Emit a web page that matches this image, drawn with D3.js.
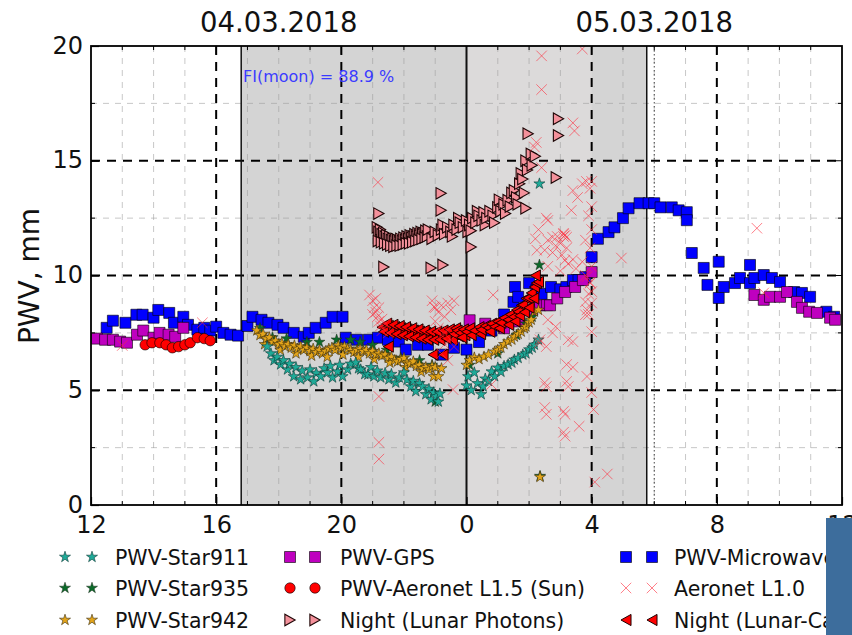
<!DOCTYPE html>
<html>
<head>
<meta charset="utf-8">
<script src="https://cdn.jsdelivr.net/npm/d3@7"></script>
<style>
  html, body { margin: 0; padding: 0; background: #fff; }
  svg { display: block; font-family: "DejaVu Sans", sans-serif; }
</style>
</head>
<body>
<svg id="chart" width="852" height="635"></svg>
<script>
// Precipitable water vapour, 04.03.2018 12:00 – 05.03.2018 12:00.
// Each point: [hour counted from 04.03.2018 00:00, PWV in mm].

const microwave = [
  [12.5,7.72],[12.7,8.03],[13.1,7.94],[13.45,8.29],[13.65,8.29],[14.0,8.16],[14.15,8.5],[14.5,8.37],
  [14.65,7.94],[14.95,8.2],[15.1,7.85],[15.4,7.64],[15.62,7.72],[15.81,7.6],[16.0,7.77],[16.23,7.5],
  [16.46,7.42],[16.7,7.38],[17.0,7.8],[17.16,8.2],[17.45,8.07],[17.67,7.94],[17.96,7.85],[18.15,7.72],
  [18.48,7.5],[18.8,7.33],[18.96,7.5],[19.18,7.72],[19.5,7.94],[19.72,8.2],[20.04,8.2],[20.14,7.29],
  [20.5,7.2],[20.88,7.2],[21.17,7.29],[21.49,7.2],[21.84,7.12],[22.06,6.77],[22.45,6.98],[22.77,6.98],
  [23.19,6.55],[23.6,6.85],[24.0,6.77],[24.4,7.1],[24.8,7.6],[25.2,8.3],[25.5,8.85],[25.55,9.5],
  [25.65,9.07],[26.0,9.67],[26.23,9.37],[26.4,9.2],[26.7,9.5],[27.0,9.4],[27.19,9.5],[27.4,9.8],
  [27.58,9.8],[27.8,9.93],[28.0,10.8],[28.2,11.6],[28.54,11.89],[28.73,12.1],[29.0,12.5],[29.18,12.93],
  [29.53,13.15],[29.82,13.15],[30.0,13.15],[30.2,12.97],[30.56,12.97],[30.78,12.84],[31.04,12.76],[31.04,12.41],
  [31.2,10.98],[31.58,10.33],[31.7,9.59],[32.06,10.6],[32.06,9.02],[32.22,9.5],[32.58,9.67],[32.74,9.89],
  [33.06,10.46],[33.06,9.67],[33.2,9.89],[33.5,10.02],[33.76,9.89],[34.02,9.72],[34.47,9.28],[34.72,9.24],
  [34.98,9.07],[35.5,8.42],[35.75,8.2]
];

const gps = [
  [12.19,7.25],[12.45,7.2],[12.7,7.2],[12.93,7.12],[13.15,7.07],[13.47,7.42],[13.67,7.6],[14.0,7.29],
  [14.19,7.5],[14.48,7.42],[14.69,7.33],[14.95,7.72],
  [24.1,8.05],[24.6,7.9],[25.2,7.7],[25.65,8.0],[26.1,8.5],[26.35,8.7],[26.57,8.71],[26.67,8.7],
  [26.9,9.0],[27.15,9.28],[27.47,9.5],[27.72,9.8],[28.0,10.15],
  [33.2,9.15],[33.5,8.94],[33.7,9.07],[34.02,9.07],[34.24,9.28],[34.56,8.85],[34.72,8.59],[34.95,8.42],
  [35.2,8.37],[35.62,8.16],[35.78,8.07]
];

const aeronetSun = [
  [13.73,6.98],[13.95,7.07],[14.2,7.07],[14.4,6.98],[14.6,6.85],[14.8,6.9],[15.0,6.98],[15.17,7.07],
  [15.4,7.29],[15.62,7.25],[15.81,7.16]
];

const star935 = [
  [17.4,7.7],[17.8,7.3],[18.25,7.25],[18.9,7.1],[19.3,7.1],[19.85,7.2],[20.3,7.2],[20.6,7.1],
  [21.0,6.97],[21.45,6.75],[21.9,6.4],[22.5,6.3],[22.9,6.1],[23.0,4.5],
  [24.1,6.1],[25.0,6.6],[25.6,7.4],[25.9,7.9],[26.1,8.2],[26.33,10.46],[26.35,1.26]
];

const star942 = [
  [17.3,7.6],[17.4,7.4],[17.5,7.45],[17.55,7.0],[17.6,7.25],[17.7,7.3],[17.8,7.1],[17.9,7.15],
  [18.0,7.0],[18.05,6.75],[18.1,7.05],[18.2,6.9],[18.3,7.0],[18.4,6.85],[18.5,6.95],[18.55,6.6],
  [18.6,6.8],[18.7,6.9],[18.8,6.75],[18.9,6.85],[19.0,6.7],[19.05,6.5],[19.1,6.8],[19.2,6.65],
  [19.3,6.75],[19.4,6.6],[19.5,6.7],[19.55,6.45],[19.6,6.8],[19.7,6.85],[19.8,6.75],[19.9,6.95],
  [20.0,6.85],[20.05,6.55],[20.1,6.9],[20.2,6.8],[20.3,6.75],[20.4,6.65],[20.5,6.75],[20.55,6.45],
  [20.6,6.8],[20.7,6.7],[20.8,6.75],[20.9,6.6],[21.0,6.7],[21.05,6.35],[21.1,6.55],[21.2,6.6],
  [21.3,6.5],[21.4,6.55],[21.5,6.4],[21.55,6.2],[21.6,6.45],[21.7,6.3],[21.8,6.25],[21.9,6.35],
  [22.0,6.4],[22.05,6.0],[22.1,6.2],[22.2,6.15],[22.3,6.25],[22.4,6.05],[22.5,6.1],[22.55,5.8],
  [22.6,5.95],[22.7,6.0],[22.8,5.9],[22.9,6.05],[22.95,5.6],[23.0,6.0],[23.1,5.6],[23.2,5.95],
  [24.0,6.1],[24.1,6.3],[24.25,6.42],[24.4,6.35],[24.56,6.46],[24.7,6.55],[24.9,6.68],[25.0,6.75],
  [25.1,6.85],[25.2,7.0],[25.33,7.12],[25.45,7.2],[25.53,7.33],[25.65,7.45],[25.75,7.55],[25.85,7.7],
  [25.9,7.77],[26.0,7.95],[26.07,8.07],[26.17,8.42],[26.3,8.5],[26.35,1.22]
];

const star911 = [
  [17.63,6.9],[17.75,6.6],[17.85,6.3],[17.95,6.45],[18.06,6.12],[18.15,6.3],[18.28,5.9],[18.35,6.15],
  [18.48,5.6],[18.55,6.0],[18.7,5.47],[18.75,5.85],[18.92,5.55],[19.0,5.9],[19.12,5.38],[19.2,5.75],
  [19.34,5.6],[19.45,5.95],[19.56,5.77],[19.65,6.05],[19.72,5.55],[19.88,5.81],[19.95,6.1],[20.04,5.6],
  [20.2,5.9],[20.3,6.15],[20.46,6.2],[20.55,5.95],[20.62,5.9],[20.75,5.7],[20.85,5.68],[20.95,6.0],
  [21.04,5.6],[21.15,5.85],[21.26,5.55],[21.4,5.75],[21.52,5.47],[21.6,5.7],[21.74,5.33],[21.85,5.55],
  [22.0,5.77],[22.1,5.45],[22.22,5.16],[22.3,5.4],[22.38,4.95],[22.5,5.3],[22.6,5.16],[22.7,4.82],
  [22.8,5.05],[22.87,4.6],[22.95,4.9],[23.03,4.73],[23.1,4.5],[23.15,4.85],
  [24.0,5.2],[24.05,5.6],[24.15,5.0],[24.25,5.77],[24.35,5.3],[24.47,4.82],[24.53,5.16],[24.6,5.5],
  [24.7,5.4],[24.8,5.81],[24.9,5.6],[25.0,5.98],[25.1,5.8],[25.2,6.05],[25.33,6.12],[25.45,6.2],
  [25.53,6.33],[25.65,6.4],[25.8,6.55],[25.9,6.6],[26.0,6.77],[26.1,6.85],[26.17,6.98],[26.3,7.2],
  [26.33,14.0]
];

const lunarPhotons = [
  [21.15,12.1],[21.2,11.9],[21.25,12.0],[21.3,11.8],[21.35,11.85],[21.4,11.7],[21.45,11.75],[21.5,11.6],
  [21.55,11.7],[21.6,11.55],[21.65,11.6],[21.7,11.5],[21.75,11.6],[21.8,11.55],[21.85,11.45],[21.9,11.6],
  [21.95,11.5],[22.0,11.65],[22.05,11.55],[22.1,11.7],[22.15,11.6],[22.2,11.75],[22.25,11.65],[22.3,11.7],
  [22.35,11.8],[22.4,11.7],[22.45,11.85],[22.5,11.75],[22.55,11.9],[22.6,11.8],[22.65,11.85],[22.7,11.95],
  [21.18,11.5],[21.28,11.45],[21.38,11.4],[21.48,11.35],[21.58,11.3],[21.68,11.25],[21.78,11.3],[21.88,11.3],
  [21.98,11.35],[22.08,11.4],[22.18,11.4],[22.28,11.45],[22.38,11.5],[22.48,11.55],[22.58,11.6],[22.68,11.65],
  [22.75,11.7],[22.78,12.0],
  [22.9,11.6],[23.0,11.9],[23.1,11.75],[23.2,12.0],[23.25,12.2],[23.3,11.8],[23.4,12.1],[23.5,11.9],
  [23.55,11.7],[23.6,12.2],[23.7,12.0],[23.75,12.5],[23.8,12.3],[23.9,12.1],[24.0,12.4],[24.05,11.9],
  [24.1,12.2],[24.15,11.95],[24.2,12.5],[24.3,12.3],[24.35,12.8],[24.4,12.6],[24.5,12.4],[24.56,12.75],
  [24.6,12.2],[24.65,12.5],[24.75,12.8],[24.85,12.6],[24.9,12.3],[25.0,12.97],[25.05,13.3],[25.1,12.8],
  [25.2,13.1],[25.25,12.7],[25.33,13.28],[25.4,13.0],[25.45,13.6],[25.53,13.71],[25.6,13.4],[25.65,13.1],
  [25.7,14.0],[25.75,14.45],[25.8,14.2],[25.85,13.6],[25.9,15.0],[25.95,14.6],[26.07,15.3],[26.1,14.8],
  [26.2,15.2],
  [21.2,12.7],[21.36,10.37],[22.87,10.33],[23.25,10.46],[23.19,13.58],[23.19,12.84],[24.15,11.24],
  [25.9,12.93],[26.87,14.27],[25.97,16.18],[26.94,16.83],[26.94,16.1]
];

const lunarCamera = [
  [21.3,7.75],[21.4,7.7],[21.5,7.8],[21.6,7.65],[21.7,7.75],[21.8,7.6],[21.9,7.7],[22.0,7.55],
  [22.1,7.65],[22.2,7.5],[22.3,7.6],[22.4,7.45],[22.5,7.55],[22.6,7.4],[22.7,7.5],[22.8,7.35],
  [22.9,7.45],[23.0,7.3],[23.1,7.45],[23.2,7.35],[23.3,7.5],[23.4,7.4],[23.5,7.55],[23.55,7.2],
  [21.35,7.55],[21.45,7.9],[21.55,7.5],[21.65,7.85],[21.75,7.45],[21.85,7.8],[21.95,7.4],[22.05,7.75],
  [22.15,7.35],[22.25,7.7],[22.35,7.3],[22.45,7.65],[22.55,7.25],[22.65,7.6],[22.75,7.2],[22.85,7.55],
  [22.95,7.2],[23.05,7.55],[23.15,7.2],[23.25,7.6],[23.35,7.25],[23.45,7.65],[23.65,7.7],[23.75,7.35],
  [23.95,7.4],
  [23.6,7.45],[23.7,7.6],[23.8,7.5],[23.85,7.3],[23.9,7.65],[24.0,7.55],[24.1,7.7],[24.15,7.4],
  [24.25,7.6],[24.4,7.75],[24.45,7.45],[24.47,7.64],[24.6,7.8],[24.7,7.72],[24.75,7.55],[24.8,7.9],
  [24.9,7.77],[25.0,8.0],[25.05,7.7],[25.1,7.94],[25.2,8.15],[25.33,8.07],[25.35,7.85],[25.4,8.3],
  [25.5,8.2],[25.55,8.0],[25.6,8.5],[25.65,8.42],[25.7,8.25],[25.75,8.7],[25.8,8.72],[25.85,8.4],
  [25.9,9.0],[25.97,9.02],[26.0,8.6],[26.07,9.24],[26.15,9.0],[26.17,9.5],[26.23,9.67],[26.3,9.72],
  [21.5,6.9],[22.93,6.55],[23.25,6.55],[26.2,10.0]
];

const aeronetL10 = [
  [13.0,6.95],[15.56,7.94],
  [21.17,14.06],[20.9,9.15],[21.0,8.9],[21.05,8.6],[21.1,8.4],[21.15,8.2],[21.2,8.0],[21.25,7.8],
  [21.3,7.6],[21.0,8.3],[21.1,9.0],[21.2,8.6],[21.3,8.1],[21.4,7.9],[21.5,7.5],[21.2,4.73],
  [21.2,2.73],[21.2,2.0],
  [22.9,8.9],[23.0,8.6],[23.1,8.4],[23.2,8.7],[23.3,8.2],[23.4,8.8],[23.5,8.5],[23.6,8.9],
  [23.0,8.0],[23.1,7.7],[23.2,7.4],[23.3,7.0],[23.4,7.6],[23.5,7.2],[23.6,6.9],[23.2,6.6],
  [23.4,6.3],[23.57,5.03],[22.96,8.63],
  [24.85,9.15],[24.8,5.25],
  [26.4,19.57],[26.4,18.1],[27.7,19.87],[27.4,16.65],[27.45,16.3],[26.23,15.8],[26.17,15.6],[26.4,14.7],
  [27.83,14.1],[27.4,13.7],[27.7,14.0],[27.55,13.4],[27.35,12.84],[26.55,12.5],[26.6,12.4],[26.3,12.0],
  [26.2,11.6],[26.6,11.54],[26.75,11.67],[26.9,11.7],[27.0,11.4],[27.1,11.84],[27.1,11.8],[27.15,11.75],
  [27.1,11.7],[27.2,11.67],[27.2,11.2],[27.8,11.54],[26.25,11.1],[26.5,11.1],[26.85,11.3],[26.75,11.0],
  [27.05,10.9],[27.15,10.67],[27.25,10.5],[27.4,10.7],[27.7,10.6],[26.6,10.4],[27.0,10.2],[27.5,10.3],
  [27.85,9.95],[28.95,10.76],
  [28.0,14.1],[27.95,13.8],[28.0,13.0],[27.9,12.6],[28.0,12.0],[27.95,11.2],[28.0,10.4],[27.95,9.7],
  [28.0,9.3],[28.0,8.8],[27.9,8.3],
  [26.6,8.07],[26.75,7.5],[26.85,7.77],[26.33,7.07],[26.35,7.2],[26.55,6.9],[27.25,7.2],[27.4,7.12],
  [27.4,6.0],[27.2,6.12],[26.5,5.33],[26.55,5.16],[27.2,5.38],[27.25,5.16],[27.85,5.6],[28.0,4.9],
  [26.5,4.25],[26.55,3.95],[27.1,4.08],[27.15,3.95],[27.1,3.17],[27.15,3.0],[27.6,3.43],[28.06,4.16],
  [28.0,7.55],[28.1,1.0],[28.5,1.35],[27.8,8.85],[27.85,8.5],[27.8,8.29],[27.9,9.2],[27.95,9.67],
  [27.8,10.0],
  [33.28,12.06],[33.5,9.24]
];

// Axis values and annotations
const xTickValues = [12, 16, 20, 24, 28, 32, 36];
const yTickValues = [0, 5, 10, 15, 20];
const dayLabels = [[18, "04.03.2018"], [30, "05.03.2018"]];
const nightHours = [16.8, 29.76];
const lunarWindowHours = [24, 28];
const midnightHour = 24;
const noonMarkHour = 30;
const moonLabel = "FI(moon) = 88.9 %";
const legendColumns = [
  ["PWV-Star911", "PWV-Star935", "PWV-Star942"],
  ["PWV-GPS", "PWV-Aeronet L1.5 (Sun)", "Night (Lunar Photons)"],
  ["PWV-Microwave", "Aeronet L1.0", "Night (Lunar-Camera)"]
];

// ---------------------------------------------------------------
const W = 852, H = 635;
const L = 91, R = 842, T = 46, B = 505;

const x = d3.scaleLinear().domain([12, 36]).range([L, R]);
const y = d3.scaleLinear().domain([0, 20]).range([B, T]);

const svg = d3.select("#chart");

// custom marker shapes
const triRight = { draw(ctx, size) { const r = Math.sqrt(size) / 2; ctx.moveTo(r * 0.9, 0); ctx.lineTo(-r * 0.9, r); ctx.lineTo(-r * 0.9, -r); ctx.closePath(); } };
const triLeft  = { draw(ctx, size) { const r = Math.sqrt(size) / 2; ctx.moveTo(-r * 0.9, 0); ctx.lineTo(r * 0.9, -r); ctx.lineTo(r * 0.9, r); ctx.closePath(); } };
const crossX   = { draw(ctx, size) { const r = Math.sqrt(size) / 2; ctx.moveTo(-r, -r); ctx.lineTo(r, r); ctx.moveTo(-r, r); ctx.lineTo(r, -r); } };

const styles = {
  microwave:    { type: d3.symbolSquare, size: 121, fill: "#0000ff", stroke: "#000", sw: 0.6 },
  gps:          { type: d3.symbolSquare, size: 121, fill: "#bf00bf", stroke: "#000", sw: 0.6 },
  aeronetSun:   { type: d3.symbolCircle, size: 85,  fill: "#ff0000", stroke: "#000", sw: 0.6 },
  star935:      { type: d3.symbolStar,   size: 38,  fill: "#0b6b2a", stroke: "#1a2a1a", sw: 0.5 },
  star942:      { type: d3.symbolStar,   size: 38,  fill: "#e3a41a", stroke: "#3a2e0a", sw: 0.6 },
  star911:      { type: d3.symbolStar,   size: 38,  fill: "#1faa98", stroke: "#0c3a36", sw: 0.6 },
  lunarPhotons: { type: triRight,        size: 130, fill: "#f4919b", stroke: "#1e0606", sw: 1.1 },
  lunarCamera:  { type: triLeft,         size: 125, fill: "#ff0000", stroke: "#1e0000", sw: 1.0 },
  aeronetL10:   { type: crossX,          size: 110, fill: "none",    stroke: "#ff2a3a", sw: 1.0, op: 0.6 }
};

// night shading
svg.append("rect")
  .attr("x", x(nightHours[0])).attr("y", T)
  .attr("width", x(nightHours[1]) - x(nightHours[0])).attr("height", B - T)
  .attr("fill", "#d4d4d4");
svg.append("rect")
  .attr("x", x(lunarWindowHours[0])).attr("y", T)
  .attr("width", x(lunarWindowHours[1]) - x(lunarWindowHours[0])).attr("height", B - T)
  .attr("fill", "#dcdada");

// minor grid (every hour, every 2.5 mm)
const minorXs = d3.range(13, 36).filter(h => h % 4 !== 0);
const minorYs = [2.5, 7.5, 12.5, 17.5];
const grid = svg.append("g");
grid.selectAll(".mx").data(minorXs).join("line")
  .attr("x1", d => x(d)).attr("x2", d => x(d)).attr("y1", T).attr("y2", B)
  .attr("stroke", "#9a9a9a").attr("stroke-opacity", 0.55).attr("stroke-width", 1)
  .attr("stroke-dasharray", "6,6");
grid.selectAll(".my").data(minorYs).join("line")
  .attr("x1", L).attr("x2", R).attr("y1", d => y(d)).attr("y2", d => y(d))
  .attr("stroke", "#9a9a9a").attr("stroke-opacity", 0.55).attr("stroke-width", 1)
  .attr("stroke-dasharray", "6,6");

// major grid
const majorXs = xTickValues.filter(h => h > 12 && h < 36 && h !== midnightHour);
const majorYs = yTickValues.filter(v => v > 0 && v < 20);
grid.selectAll(".Mx").data(majorXs).join("line")
  .attr("x1", d => x(d)).attr("x2", d => x(d)).attr("y1", T).attr("y2", B)
  .attr("stroke", "#000").attr("stroke-width", 2).attr("stroke-dasharray", "9,7");
grid.selectAll(".My").data(majorYs).join("line")
  .attr("x1", L).attr("x2", R).attr("y1", d => y(d)).attr("y2", d => y(d))
  .attr("stroke", "#000").attr("stroke-width", 2).attr("stroke-dasharray", "9,7");

// night borders and midnight
grid.selectAll(".solid").data([nightHours[0], midnightHour, nightHours[1]]).join("line")
  .attr("x1", d => x(d)).attr("x2", d => x(d)).attr("y1", T).attr("y2", B)
  .attr("stroke", "#111").attr("stroke-width", d => d === midnightHour ? 2 : 1.5);
grid.append("line")
  .attr("x1", x(noonMarkHour)).attr("x2", x(noonMarkHour)).attr("y1", T).attr("y2", B)
  .attr("stroke", "#444").attr("stroke-width", 1).attr("stroke-dasharray", "1.5,2.5");

// moon illumination note
svg.append("text")
  .attr("x", 243).attr("y", 82)
  .attr("font-size", 16).attr("fill", "#3b3bff")
  .text(moonLabel);

// markers
svg.append("clipPath").attr("id", "plotClip")
  .append("rect").attr("x", L).attr("y", T).attr("width", R - L).attr("height", B - T);
const marks = svg.append("g").attr("clip-path", "url(#plotClip)");

function drawSeries(data, st) {
  const path = d3.symbol().type(st.type).size(st.size)();
  marks.append("g").selectAll("path").data(data).join("path")
    .attr("d", path)
    .attr("transform", d => `translate(${x(d[0])},${y(d[1])})`)
    .attr("fill", st.fill).attr("stroke", st.stroke).attr("stroke-width", st.sw)
    .attr("opacity", st.op || 1);
}
drawSeries(microwave, styles.microwave);
drawSeries(gps, styles.gps);
drawSeries(aeronetSun, styles.aeronetSun);
drawSeries(star935, styles.star935);
drawSeries(star942, styles.star942);
drawSeries(star911, styles.star911);
drawSeries(lunarPhotons, styles.lunarPhotons);
drawSeries(lunarCamera, styles.lunarCamera);
drawSeries(aeronetL10, styles.aeronetL10);

// axes
const xAxis = d3.axisBottom(x).tickValues(xTickValues).tickFormat(d => d % 24)
  .tickSizeInner(-8).tickSizeOuter(0).tickPadding(11);
const gx = svg.append("g").attr("transform", `translate(0,${B})`).call(xAxis);
const yAxis = d3.axisLeft(y).tickValues(yTickValues)
  .tickSizeInner(-8).tickSizeOuter(0).tickPadding(8);
const gy = svg.append("g").attr("transform", `translate(${L},0)`).call(yAxis);
[gx, gy].forEach(g => {
  g.select(".domain").remove();
  g.selectAll("line").attr("stroke", "#000").attr("stroke-width", 1.2);
  g.selectAll("text").attr("font-size", 24).attr("fill", "#111")
    .attr("font-family", "DejaVu Sans, sans-serif");
});
gy.selectAll("text").attr("dy", "0.3em");

// minor inward ticks
const minorTicks = svg.append("g").attr("stroke", "#000").attr("stroke-width", 1);
minorTicks.selectAll(".tb").data(minorXs).join("line")
  .attr("x1", d => x(d)).attr("x2", d => x(d)).attr("y1", B).attr("y2", B - 4);
minorTicks.selectAll(".tt").data(minorXs).join("line")
  .attr("x1", d => x(d)).attr("x2", d => x(d)).attr("y1", T).attr("y2", T + 4);
minorTicks.selectAll(".tl").data(minorYs).join("line")
  .attr("x1", L).attr("x2", L + 4).attr("y1", d => y(d)).attr("y2", d => y(d));
minorTicks.selectAll(".tr").data(minorYs).join("line")
  .attr("x1", R).attr("x2", R - 4).attr("y1", d => y(d)).attr("y2", d => y(d));
minorTicks.selectAll(".Tt").data(majorXs).join("line")
  .attr("x1", d => x(d)).attr("x2", d => x(d)).attr("y1", T).attr("y2", T + 8);
minorTicks.selectAll(".Tr").data(majorYs).join("line")
  .attr("x1", R).attr("x2", R - 8).attr("y1", d => y(d)).attr("y2", d => y(d));

// frame
svg.append("rect").attr("x", L).attr("y", T).attr("width", R - L).attr("height", B - T)
  .attr("fill", "none").attr("stroke", "#000").attr("stroke-width", 1.8);

// day titles
svg.selectAll(".day").data(dayLabels).join("text")
  .attr("x", d => x(d[0])).attr("y", 32)
  .attr("text-anchor", "middle").attr("font-size", 27.5).attr("fill", "#111")
  .text(d => d[1]);

// y axis title
svg.append("text")
  .attr("transform", "translate(39,276) rotate(-90)")
  .attr("text-anchor", "middle").attr("font-size", 28).attr("fill", "#111")
  .text("PWV, mm");

// legend
const legendStyles = [
  [styles.star911, styles.star935, styles.star942],
  [styles.gps, styles.aeronetSun, styles.lunarPhotons],
  [styles.microwave, styles.aeronetL10, styles.lunarCamera]
];
const legendMarkerX = [[65, 92], [290, 315], [626, 652]];
const legendTextX = [115, 340, 674];
const legendRowY = [557, 588, 620];
const legend = svg.append("g");
legendColumns.forEach((col, ci) => {
  col.forEach((label, ri) => {
    const st = legendStyles[ci][ri];
    const path = d3.symbol().type(st.type).size(st.size)();
    legendMarkerX[ci].forEach(mx => {
      legend.append("path").attr("d", path)
        .attr("transform", `translate(${mx},${legendRowY[ri]})`)
        .attr("fill", st.fill).attr("stroke", st.stroke).attr("stroke-width", st.sw)
        .attr("opacity", st.op || 1);
    });
    legend.append("text")
      .attr("x", legendTextX[ci]).attr("y", legendRowY[ri] + 7.5)
      .attr("font-size", 20.5).attr("fill", "#111")
      .text(label);
  });
});

// slide panel overlapping the lower right corner
svg.append("rect").attr("x", 826).attr("y", 518).attr("width", 26).attr("height", 117)
  .attr("fill", "#3d6d9c");
</script>
</body>
</html>
